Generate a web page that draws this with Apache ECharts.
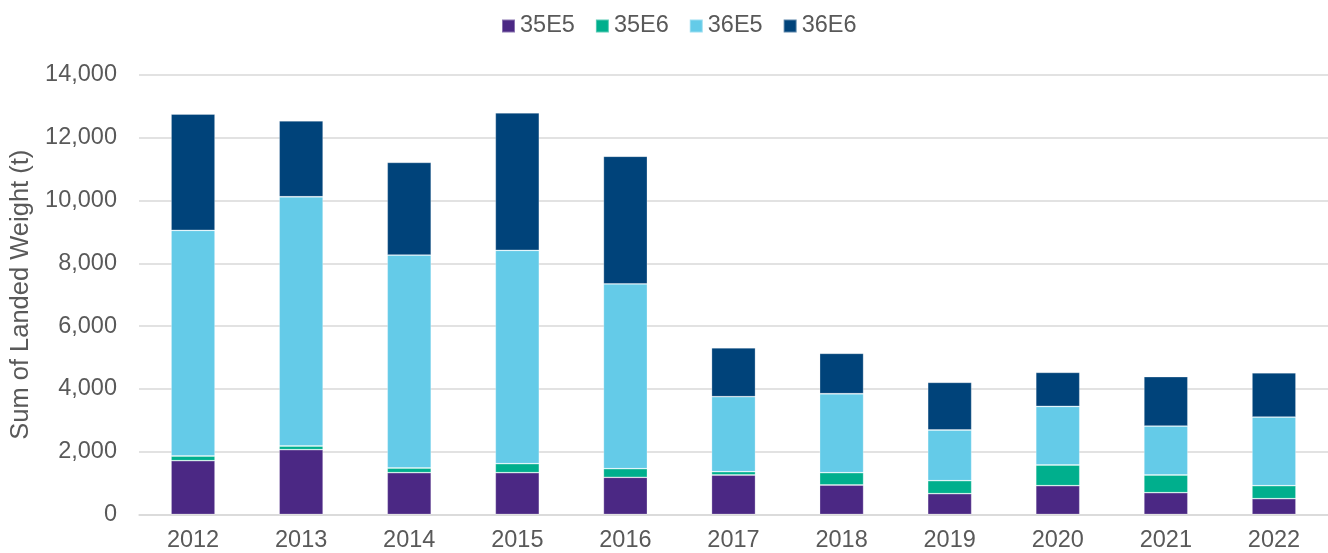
<!DOCTYPE html>
<html>
<head>
<meta charset="utf-8">
<script src="https://cdn.jsdelivr.net/npm/echarts@6/dist/echarts.min.js"></script>
<style>
html,body{margin:0;padding:0;background:#fff;}
#c{width:1328px;height:553px;}
</style>
</head>
<body>
<div id="c"></div>
<script>
const categories = ['2012','2013','2014','2015','2016','2017','2018','2019','2020','2021','2022'];
const s35E5 = [1713, 2064, 1331, 1331, 1185, 1258, 939, 662, 917, 694, 503];
const s35E6 = [150, 118, 150, 287, 274, 105, 392, 414, 659, 564, 414];
const s36E5 = [7188, 7939, 6783, 6796, 5885, 2389, 2516, 1615, 1867, 1560, 2188];
const s36E6 = [3704, 2420, 2953, 4382, 4068, 1560, 1287, 1519, 1085, 1574, 1411];
const seriesNames = ['35E5','35E6','36E5','36E6'];
const colors = ['#4B2884','#00AF8D','#64CBE8','#00437A'];
const values = [s35E5, s35E6, s36E5, s36E6];

const chart = echarts.init(document.getElementById('c'), null, {renderer:'canvas'});
const font = 'Liberation Sans, Arial, sans-serif';
chart.setOption({
  animation: false,
  textStyle: {fontFamily: font},
  legend: {
    top: 9, left: 496,
    itemWidth: 13, itemHeight: 13, itemGap: 20,
    icon: 'rect',
    textStyle: {fontSize: 23.5, color: '#595959', fontFamily: font},
    data: seriesNames
  },
  grid: {left: 139, top: 75, bottom: 38.5, width: 1199, containLabel: false},
  xAxis: {
    type: 'category', data: categories,
    axisLine: {lineStyle: {color: '#D9D9D9', width: 1.5}},
    axisTick: {show: false},
    axisLabel: {fontSize: 23.5, color: '#595959', margin: 14, fontFamily: font}
  },
  yAxis: {
    type: 'value', min: 0, max: 14000, interval: 2000,
    name: 'Sum of Landed Weight (t)', nameLocation: 'middle', nameGap: 105,
    nameTextStyle: {fontSize: 25.5, color: '#595959', fontFamily: font},
    axisLine: {show: false}, axisTick: {show: false},
    splitLine: {lineStyle: {color: '#D9D9D9', width: 1.5}},
    axisLabel: {fontSize: 23.5, color: '#595959', margin: 22, fontFamily: font,
      formatter: v => v.toLocaleString('en-US')}
  },
  series: seriesNames.map((n, i) => ({
    name: n, type: 'bar', stack: 'total', data: values[i], barWidth: 44,
    itemStyle: {color: colors[i], borderColor: 'rgba(255,255,255,0.35)', borderWidth: 0.8}
  }))
});
</script>
</body>
</html>
